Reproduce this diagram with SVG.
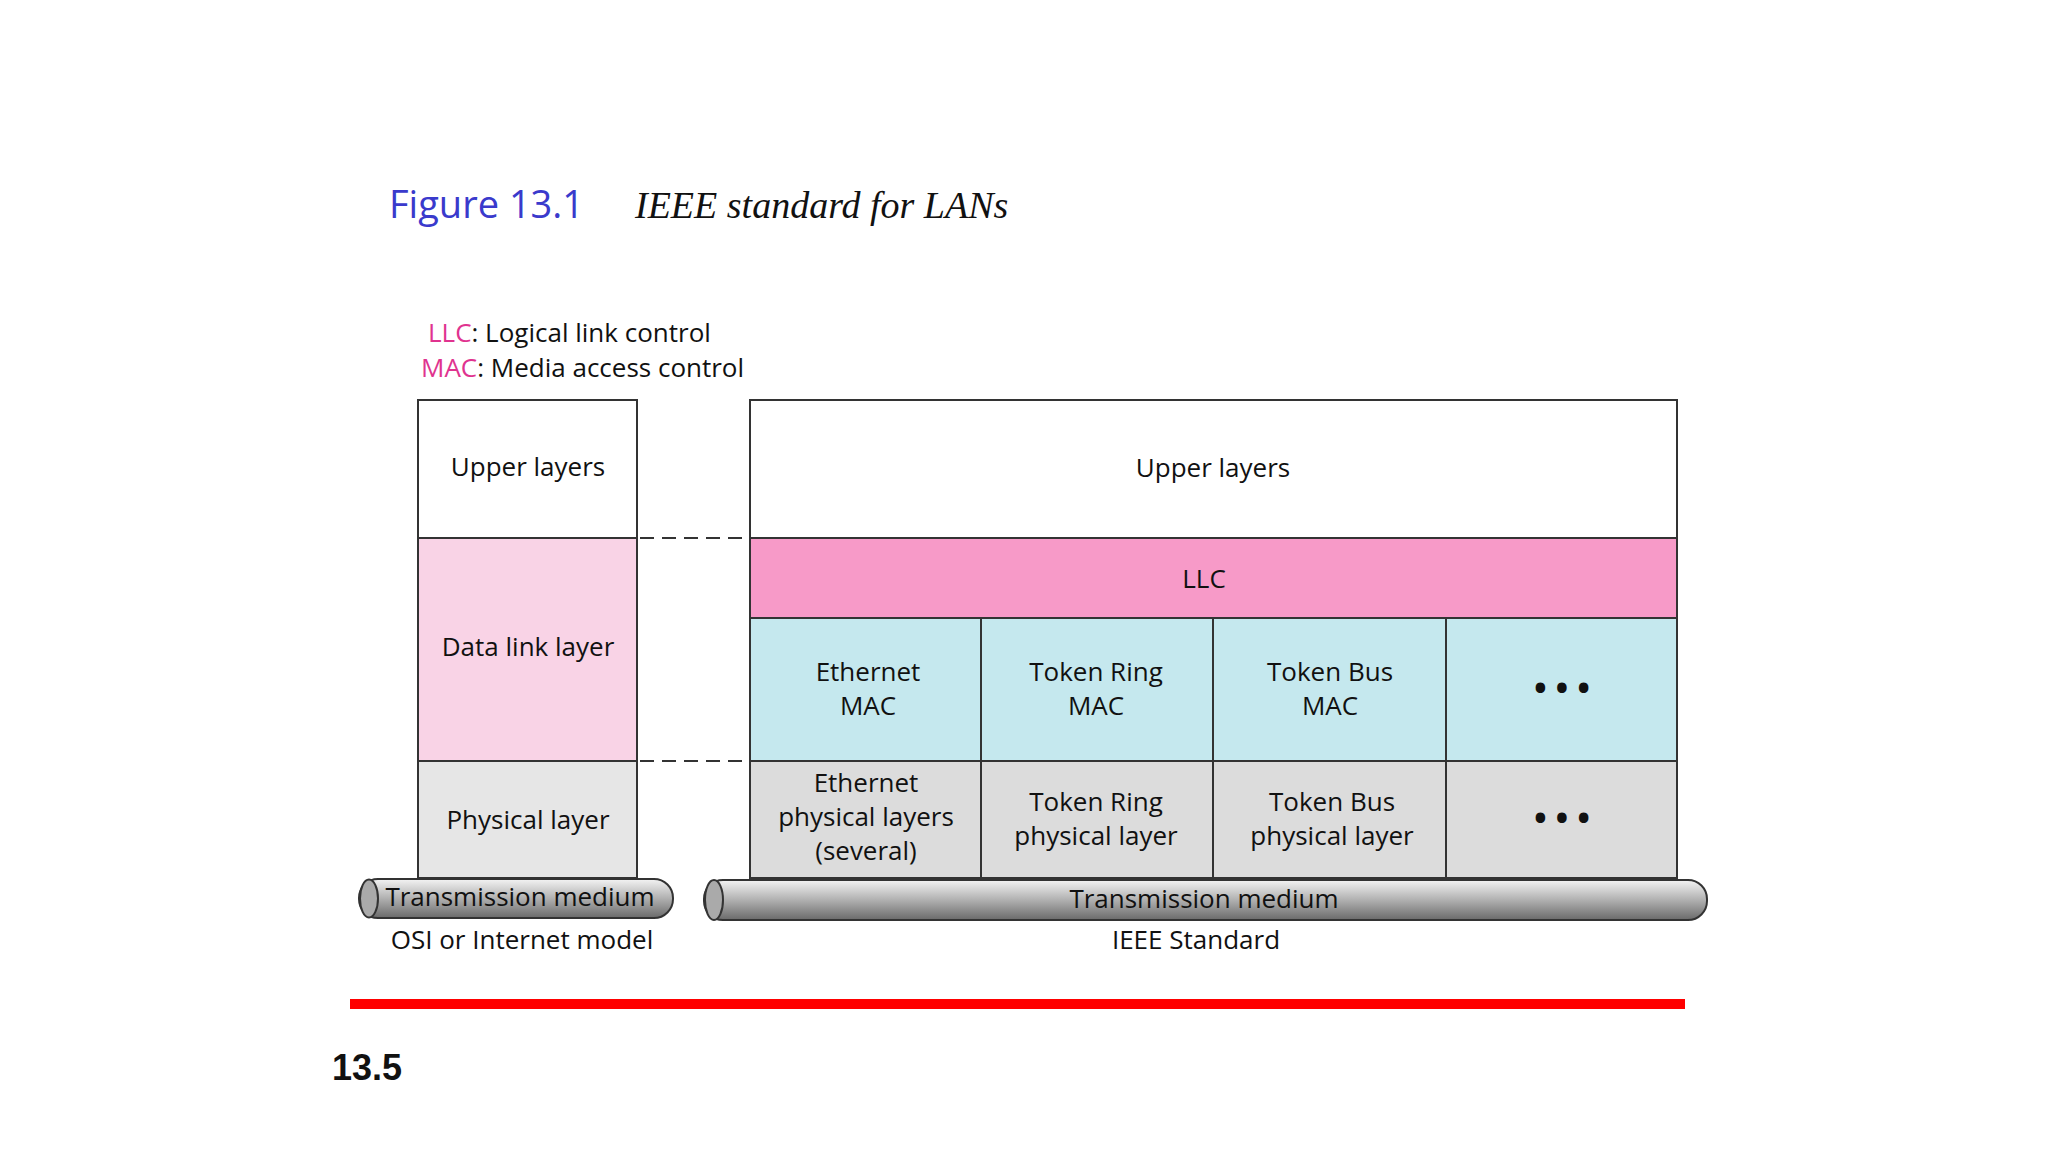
<svg xmlns="http://www.w3.org/2000/svg" width="2048" height="1152" viewBox="0 0 2048 1152">
<style>
.b{stroke:#333;stroke-width:2}
.t{font-family:"Open Sans","Liberation Sans",sans-serif;font-size:26px;fill:#111;text-anchor:middle}
.k{fill:#e0338f}
</style>
<defs>
<linearGradient id="g" x1="0" y1="0" x2="0" y2="1">
<stop offset="0" stop-color="#f4f4f4"/><stop offset="0.5" stop-color="#b0b0b0"/><stop offset="1" stop-color="#6a6a6a"/>
</linearGradient>
</defs>
<rect width="2048" height="1152" fill="#fff"/>
<text x="389" y="218" font-family="Open Sans,Liberation Sans,sans-serif" font-size="38" fill="#3a3acc">Figure 13.1</text>
<text x="635" y="218" font-family="Liberation Serif,serif" font-style="italic" font-size="38" fill="#111">IEEE standard for LANs</text>
<text x="428" y="342" class="t" style="text-anchor:start"><tspan class="k">LLC</tspan>: Logical link control</text>
<text x="421" y="377" class="t" style="text-anchor:start"><tspan class="k">MAC</tspan>: Media access control</text>
<g id="osi">
<rect x="418" y="400" width="219" height="138" fill="#fff" class="b"/>
<rect x="418" y="538" width="219" height="223" fill="#f9d3e6" class="b"/>
<rect x="418" y="761" width="219" height="117" fill="#e6e6e6" class="b"/>
<text x="528" y="476" class="t">Upper layers</text>
<text x="528" y="656" class="t">Data link layer</text>
<text x="528" y="829" class="t">Physical layer</text>
</g>
<g id="ieee">
<rect x="750" y="400" width="927" height="138" fill="#fff" class="b"/>
<rect x="750" y="538" width="927" height="80" fill="#f79ac8" class="b"/>
<rect x="750" y="618" width="927" height="143" fill="#c5e8ee" class="b"/>
<rect x="750" y="761" width="927" height="117" fill="#dcdcdc" class="b"/>
<line x1="981" y1="618" x2="981" y2="878" class="b"/>
<line x1="1213" y1="618" x2="1213" y2="878" class="b"/>
<line x1="1446" y1="618" x2="1446" y2="878" class="b"/>
<text x="1213" y="477" class="t">Upper layers</text>
<text x="1204" y="588" class="t">LLC</text>
<text x="868" y="681" class="t">Ethernet<tspan x="868" dy="34">MAC</tspan></text>
<text x="1096" y="681" class="t">Token Ring<tspan x="1096" dy="34">MAC</tspan></text>
<text x="1330" y="681" class="t">Token Bus<tspan x="1330" dy="34">MAC</tspan></text>
<text x="1562" y="700" class="t" style="font-weight:bold;font-size:34px">• • •</text>
<text x="866" y="792" class="t">Ethernet<tspan x="866" dy="34">physical layers</tspan><tspan x="866" dy="34">(several)</tspan></text>
<text x="1096" y="811" class="t">Token Ring<tspan x="1096" dy="34">physical layer</tspan></text>
<text x="1332" y="811" class="t">Token Bus<tspan x="1332" dy="34">physical layer</tspan></text>
<text x="1562" y="830" class="t" style="font-weight:bold;font-size:34px">• • •</text>
</g>
<g id="connectors">
<line x1="640" y1="538" x2="747" y2="538" stroke="#333" stroke-width="2" stroke-dasharray="14,8"/>
<line x1="640" y1="761" x2="747" y2="761" stroke="#333" stroke-width="2" stroke-dasharray="14,8"/>
</g>
<g id="media">
<rect x="359" y="879" width="314" height="39" rx="19" fill="url(#g)" stroke="#333" stroke-width="2"/>
<ellipse cx="369" cy="898.5" rx="9" ry="19" fill="#aaa" stroke="#333" stroke-width="2"/>
<text x="520" y="906" class="t">Transmission medium</text>
<rect x="704" y="880" width="1003" height="40" rx="19" fill="url(#g)" stroke="#333" stroke-width="2"/>
<ellipse cx="714" cy="900" rx="9" ry="20" fill="#aaa" stroke="#333" stroke-width="2"/>
<text x="1204" y="908" class="t">Transmission medium</text>
<text x="522" y="949" class="t">OSI or Internet model</text>
<text x="1196" y="949" class="t">IEEE Standard</text>
</g>
<rect x="350" y="999" width="1335" height="10" fill="#f00"/>
<text x="332" y="1080" font-family="Liberation Sans,sans-serif" font-weight="bold" font-size="36" fill="#111">13.5</text>
</svg>
